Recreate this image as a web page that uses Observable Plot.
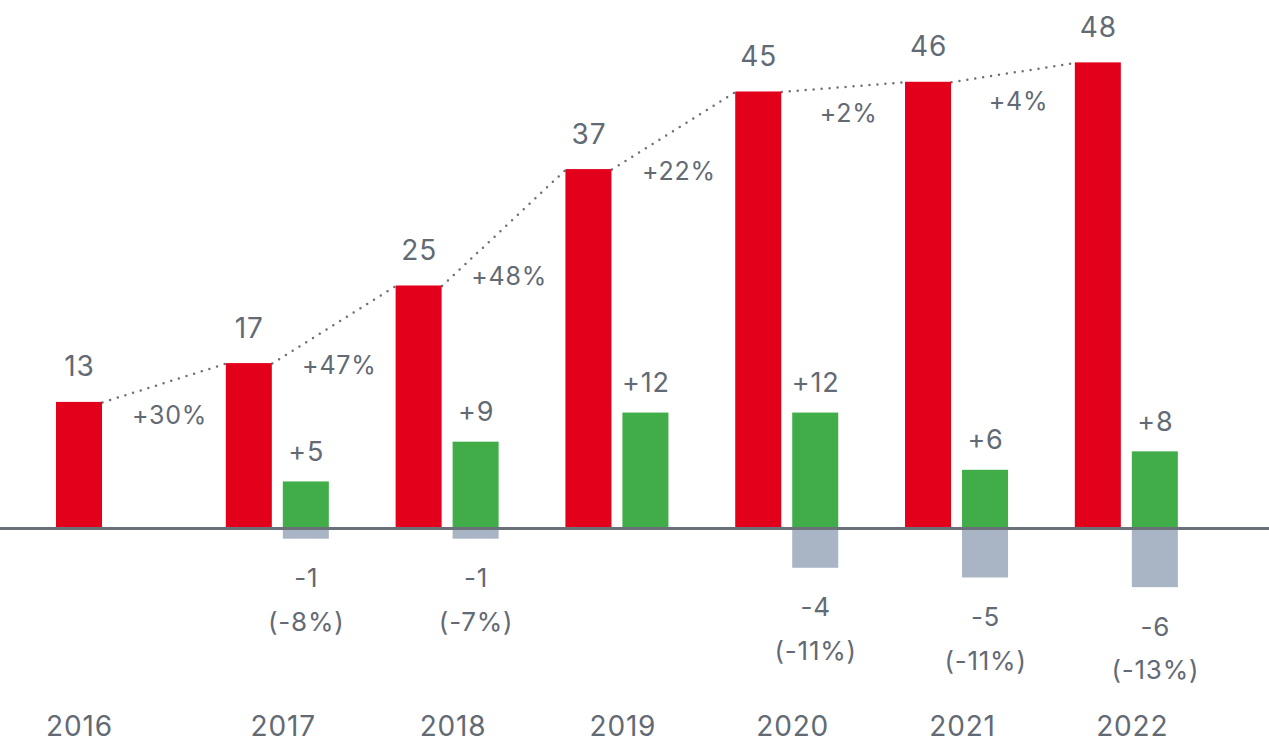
<!DOCTYPE html>
<html>
<head>
<meta charset="utf-8">
<script src="https://cdn.jsdelivr.net/npm/d3@7"></script>
<script src="https://cdn.jsdelivr.net/npm/@observablehq/plot@0.6"></script>
<style>
  html, body { margin: 0; padding: 0; background: #ffffff; }
  #chart svg { display: block; }
  #chart svg text { letter-spacing: 0.03em; }
</style>
</head>
<body>
<div id="chart"></div>
<script>
// ---- data ----
const years = ["2016", "2017", "2018", "2019", "2020", "2021", "2022"];
const totals = [13, 17, 25, 37, 45, 46, 48];
const gains = [null, 4.8, 8.9, 11.9, 11.9, 6.0, 7.9];
const losses = [null, -1.1, -1.1, null, -4.1, -5.1, -6.1];
const gainLabels = [null, "+5", "+9", "+12", "+12", "+6", "+8"];
const lossLabels = [null, "-1", "-1", null, "-4", "-5", "-6"];
const lossPctLabels = [null, "(-8%)", "(-7%)", null, "(-11%)", "(-11%)", "(-13%)"];
const growthLabels = ["+30%", "+47%", "+48%", "+22%", "+2%", "+4%"];

// ---- layout constants (in year-index units / pixels) ----
const HALF = 0.1355;      // half bar width
const OFFSET = 0.3357;    // green/grey bar offset from red bar
const LABEL_SHIFT = 0.2;  // year label shift when a green bar exists
const PX_PER_UNIT = 9.7;  // vertical pixels per value unit

const RED = "#e2001a", GREEN = "#41ad49", GREY = "#a9b4c4";
const TEXT = "#626a74", AXIS = "#6b7179";

const rows = years.map((year, i) => ({
  i, year, total: totals[i], gain: gains[i], loss: losses[i],
  gainLabel: gainLabels[i], lossLabel: lossLabels[i] == null ? null : lossLabels[i] + "\n" + lossPctLabels[i]
}));
const links = growthLabels.map((label, i) => ({
  i, label, a: totals[i], b: totals[i + 1]
}));

const chart = Plot.plot({
  width: 1269,
  height: 742,
  marginTop: 0, marginBottom: 0, marginLeft: 0, marginRight: 0,
  style: { fontFamily: "Inter, 'Open Sans', sans-serif", background: "#ffffff" },
  x: { type: "linear", domain: [-0.4653, 7.008], axis: null },
  y: { domain: [-22.06, 54.43], axis: null },
  marks: [
    // connecting dotted line between red bar tops
    Plot.link(links, {
      x1: d => d.i + HALF, y1: "a",
      x2: d => d.i + 1 - HALF, y2: "b",
      stroke: AXIS, strokeWidth: 2.5, strokeDasharray: "0 8", strokeLinecap: "round"
    }),
    // red total bars
    Plot.rect(rows, { x1: d => d.i - HALF, x2: d => d.i + HALF, y1: 0, y2: "total", fill: RED }),
    // green gain bars
    Plot.rect(rows.filter(d => d.gain != null), {
      x1: d => d.i + OFFSET - HALF, x2: d => d.i + OFFSET + HALF, y1: 0, y2: "gain", fill: GREEN
    }),
    // grey loss bars
    Plot.rect(rows.filter(d => d.loss != null), {
      x1: d => d.i + OFFSET - HALF, x2: d => d.i + OFFSET + HALF, y1: 0, y2: "loss", fill: GREY
    }),
    // baseline
    Plot.ruleY([0], { stroke: AXIS, strokeWidth: 3 }),
    // value labels
    Plot.text(rows, {
      x: "i", y: "total", text: d => String(d.total),
      lineAnchor: "bottom", dy: -26, fontSize: 28, fill: TEXT
    }),
    Plot.text(rows.filter(d => d.gain != null), {
      x: d => d.i + OFFSET, y: "gain", text: "gainLabel",
      lineAnchor: "bottom", dy: -21, fontSize: 27, fill: TEXT
    }),
    Plot.text(rows.filter(d => d.loss != null), {
      x: d => d.i + OFFSET, y: "loss", text: "lossLabel",
      lineAnchor: "top", dy: 17, fontSize: 26, lineHeight: 1.68, fill: TEXT
    }),
    // growth percentages (placed below the dotted segment, further for steeper segments)
    Plot.text(links, {
      x: d => d.i + 0.53,
      y: d => (d.a + d.b) / 2 - (25 + 2 * (d.b - d.a)) / PX_PER_UNIT,
      text: "label", fontSize: 25, fill: TEXT
    }),
    // year labels
    Plot.text(rows, {
      x: d => d.i + (d.gain != null ? LABEL_SHIFT : 0), text: "year",
      frameAnchor: "bottom", lineAnchor: "middle", dy: -15, fontSize: 28, fill: TEXT
    })
  ]
});

document.getElementById("chart").appendChild(chart);
</script>
</body>
</html>
